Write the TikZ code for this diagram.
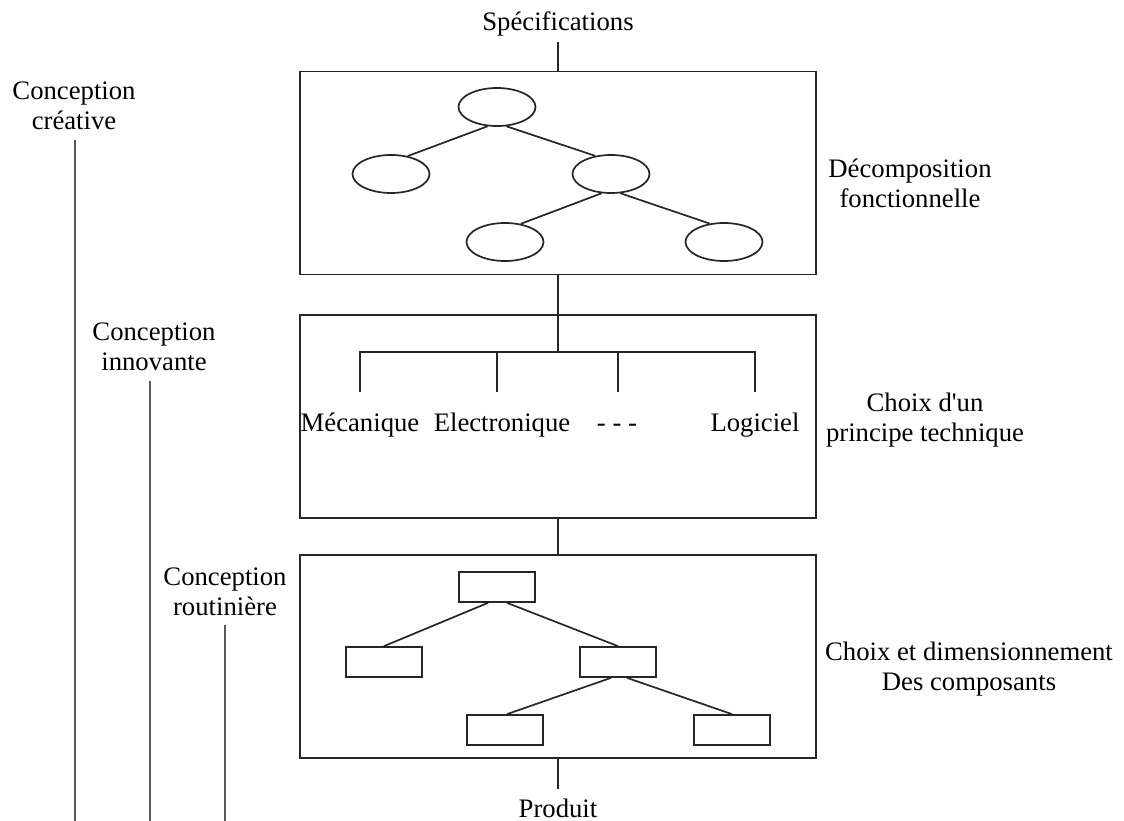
\documentclass[tikz,border=0pt]{standalone}
\usepackage{fontspec}
\setmainfont{Liberation Serif}[Ligatures=TeXOff]
\usetikzlibrary{shapes.geometric}
\begin{document}
\begin{tikzpicture}[x=1pt,y=-1pt,
  txt/.style={font=\fontsize{26.7}{30}\selectfont, align=center, inner sep=0pt, text=black},
  bigbox/.style={draw=black!85, line width=1.8pt, minimum width=516pt, minimum height=203pt, inner sep=0pt},
  ell/.style={draw=black!85, line width=1.7pt, ellipse, minimum width=77pt, minimum height=38pt, inner sep=0pt},
  rbox/.style={draw=black!85, line width=1.7pt, rectangle, minimum width=76pt, minimum height=30pt, inner sep=0pt},
  lnk/.style={draw=black!85, line width=1.7pt},
  bar/.style={draw=black!65, line width=2pt}]
\useasboundingbox (0,0) rectangle (1124,821);

% main boxes
\node[bigbox] (b1) at (558,173) {};
\node[bigbox] (b2) at (558,416.5) {};
\node[bigbox] (b3) at (558,656.5) {};

% top / bottom labels
\node[txt, anchor=base, inner ysep=5.2pt] (spec) at (558,31) {Spécifications};
\node[txt, anchor=base, inner ysep=8.8pt] (prod) at (558,817) {Produit};
\draw[lnk] (spec.south) -- (b1.north);
\draw[lnk] (b1.south) -- (b2.north);
\draw[lnk] (b2.south) -- (b3.north);
\draw[lnk] (b3.south) -- (prod.north);

% tree of ellipses
\node[ell] (e0) at (497,107) {};
\node[ell] (e1) at (391,174) {};
\node[ell] (e2) at (611,174) {};
\node[ell] (e3) at (505,242) {};
\node[ell] (e4) at (724,242) {};
\draw[lnk] (e0.244) -- (e1.47);
\draw[lnk] (e0.296) -- (e2.131);
\draw[lnk] (e2.244) -- (e3.49);
\draw[lnk] (e2.296) -- (e4.128);

% technical principle
\coordinate (bar) at (558,352);
\coordinate (t1) at (360,392);
\coordinate (t2) at (497,392);
\coordinate (t3) at (618,392);
\coordinate (t4) at (755,392);
\draw[lnk] (b2.north) -- (bar);
\draw[lnk] (t1) -- (t1 |- bar) -- (t4 |- bar) -- (t4);
\draw[lnk] (t2 |- bar) -- (t2);
\draw[lnk] (t3 |- bar) -- (t3);
\node[txt, anchor=base] (mec) at (360,431) {Mécanique};
\node[txt, anchor=base] (ele) at (502,431) {Electronique};
\node[txt, anchor=base] (dots) at (617,431) {- - -};
\node[txt, anchor=base] (log) at (755,431) {Logiciel};

% tree of rectangles
\node[rbox] (r0) at (497,587) {};
\node[rbox] (r1) at (384,662) {};
\node[rbox] (r2) at (618,662) {};
\node[rbox] (r3) at (505,730) {};
\node[rbox] (r4) at (732,730) {};
\draw[lnk] ([xshift=-9pt]r0.south) -- (r1.north);
\draw[lnk] ([xshift=10pt]r0.south) -- (r2.north);
\draw[lnk] ([xshift=-7pt]r2.south) -- ([xshift=2pt]r3.north);
\draw[lnk] ([xshift=9pt]r2.south) -- (r4.north);

% right labels
\node[txt] (dec) at (910,183) {Décomposition\\fonctionnelle};
\node[txt] (cho) at (925,420) {Choix d'un\\principe technique};
\node[txt] (dim) at (969,669) {Choix et dimensionnement\\Des composants};

% left labels and bars
\node[txt] (cc) at (74,106) {Conception\\créative};
\node[txt] (ci) at (154,347) {Conception\\innovante};
\node[txt] (cr) at (225,592) {Conception\\routinière};
\coordinate (cca) at (75,140);  \coordinate (ccb) at (75,821);
\coordinate (cia) at (150,381); \coordinate (cib) at (150,821);
\coordinate (cra) at (225,625); \coordinate (crb) at (225,821);
\draw[bar] (cca) -- (ccb);
\draw[bar] (cia) -- (cib);
\draw[bar] (cra) -- (crb);
\end{tikzpicture}
\end{document}
